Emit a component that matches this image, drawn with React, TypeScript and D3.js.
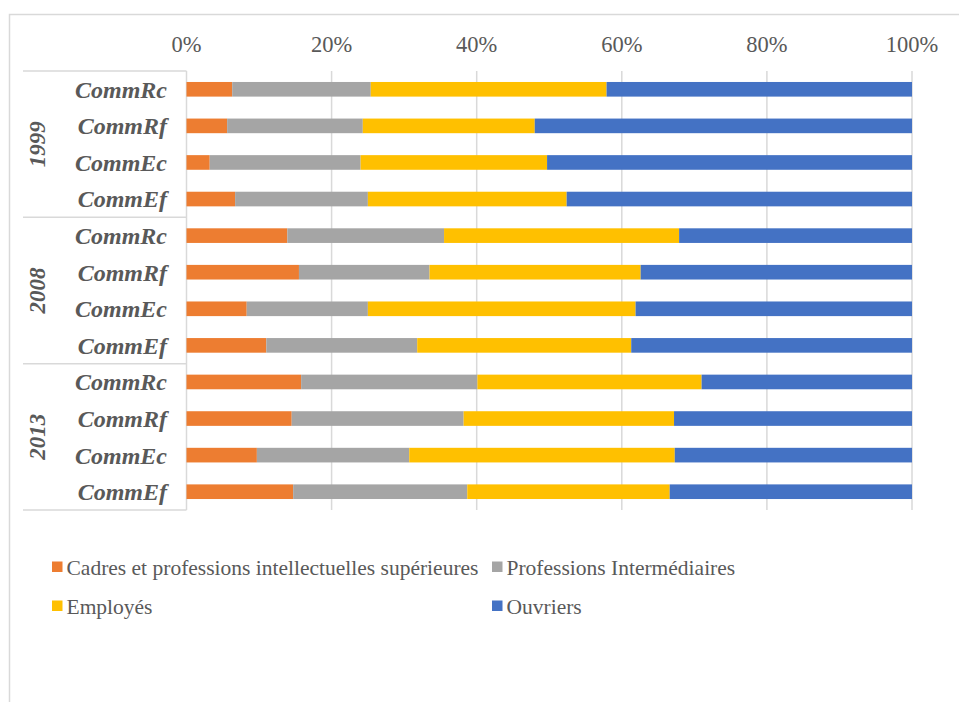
import React from "react";
import * as d3 from "d3";

const years = ["1999", "2008", "2013"];
const categories = ["CommRc", "CommRf", "CommEc", "CommEf"];
const seriesNames = [
  "Cadres et professions intellectuelles supérieures",
  "Professions Intermédiaires",
  "Employés",
  "Ouvriers",
];
const seriesColors = ["#ED7D31", "#A5A5A5", "#FFC000", "#4472C4"];

// values per row (year x category), in %
const cadres = [6.3, 5.6, 3.2, 6.7, 13.9, 15.5, 8.3, 11.0, 15.8, 14.5, 9.7, 14.7];
const intermediaires = [19.1, 18.7, 20.8, 18.3, 21.6, 18.0, 16.7, 20.8, 24.3, 23.7, 21.0, 24.0];
const employes = [32.5, 23.7, 25.7, 27.4, 32.4, 29.1, 36.9, 29.5, 30.9, 29.0, 36.6, 27.9];
const ouvriers = [42.1, 52.0, 50.3, 47.6, 32.1, 37.4, 38.1, 38.7, 29.0, 32.8, 32.7, 33.4];
const tickValues = [0, 0.2, 0.4, 0.6, 0.8, 1.0];

const W = 959;
const H = 702;
const left = 186.5;
const right = 912;
const top = 71;
const bottom = 510;
const font = "'Liberation Serif', 'Times New Roman', serif";
const textColor = "#595959";
const lineColor = "#D9D9D9";

export default function App() {
  const rows = years.flatMap((y) => categories.map((c) => `${y}|${c}`));
  const series = [cadres, intermediaires, employes, ouvriers];
  const data = rows.map((r, i) => {
    const o: any = { key: r };
    series.forEach((s, j) => (o[j] = s[i]));
    return o;
  });
  const stack = d3.stack<any>().keys([0, 1, 2, 3] as any).offset(d3.stackOffsetExpand);
  const stacked = stack(data);

  const x = d3.scaleLinear().domain([0, 1]).range([left, right]);
  const y = d3.scaleBand().domain(rows).range([top, bottom]).paddingInner(0.6).paddingOuter(0.3);
  const groupH = (bottom - top) / years.length;
  const pct = d3.format(".0%");

  return (
    <svg width={W} height={H} style={{ position: "absolute", left: 0, top: 0 }}>
      <rect x={0} y={0} width={W} height={H} fill="#fff" />
      <rect x={9.5} y={14.5} width={W + 20} height={H + 20} fill="none" stroke={lineColor} strokeWidth={1.5} />
      {tickValues.map((t) => (
        <g key={t}>
          <line x1={x(t)} x2={x(t)} y1={top} y2={bottom} stroke={lineColor} strokeWidth={1.5} />
          <text x={x(t)} y={52} textAnchor="middle" fontFamily={font} fontSize={22.5} fill={textColor}>
            {pct(t)}
          </text>
        </g>
      ))}
      {stacked.map((s, j) => (
        <g key={j} fill={seriesColors[j]}>
          {s.map((d: any, i: number) => (
            <rect
              key={i}
              x={x(d[0])}
              width={x(d[1]) - x(d[0])}
              y={y(rows[i])!}
              height={y.bandwidth()}
            />
          ))}
        </g>
      ))}
      {/* category table lines */}
      {d3.range(years.length + 1).map((g) => (
        <line key={g} x1={23} x2={left} y1={top + g * groupH} y2={top + g * groupH} stroke={lineColor} strokeWidth={1.5} />
      ))}
      {rows.map((r) => (
        <text
          key={r}
          x={167}
          y={y(r)! + y.bandwidth() / 2}
          dy="0.35em"
          textAnchor="end"
          fontFamily={font}
          fontSize={24}
          fontWeight="bold"
          fontStyle="italic"
          fill={textColor}
        >
          {r.split("|")[1]}
        </text>
      ))}
      {years.map((yr, g) => (
        <text
          key={yr}
          transform={`translate(${45},${top + (g + 0.5) * groupH}) rotate(-90)`}
          textAnchor="middle"
          fontFamily={font}
          fontSize={23}
          fontWeight="bold"
          fontStyle="italic"
          fill={textColor}
        >
          {yr}
        </text>
      ))}
      {/* legend */}
      {seriesNames.map((n, j) => {
        const lx = j % 2 === 0 ? 52 : 492;
        const ly = j < 2 ? 567 : 606;
        return (
          <g key={n}>
            <rect x={lx} y={ly - 5.5} width={10.5} height={10.5} fill={seriesColors[j]} />
            <text x={lx + 14.5} y={ly} dy="0.35em" fontFamily={font} fontSize={21.5} fill={textColor}>
              {n}
            </text>
          </g>
        );
      })}
    </svg>
  );
}
